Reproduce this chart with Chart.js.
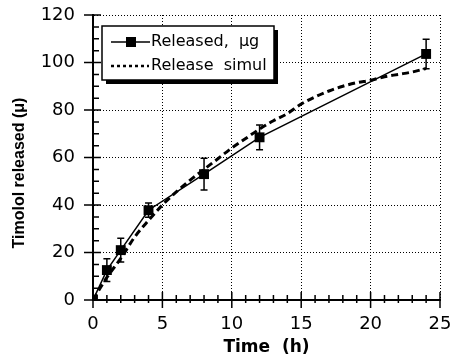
<!DOCTYPE html>
<html>
<head>
<meta charset="utf-8">
<script src="https://cdn.jsdelivr.net/npm/chart.js@4"></script>
<style>
  html, body { margin: 0; padding: 0; background: #fff; }
  #wrap { width: 453px; height: 360px; }
</style>
</head>
<body>
<div id="wrap"><canvas id="myChart" width="453" height="360"></canvas></div>
<script>
// measured release (with error bars)
const releaseTimes = [0, 1, 2, 4, 8, 12, 24];
const releaseValues = [0, 12.6, 21, 37.8, 53, 68.5, 103.6];
const releaseErrors = [0, 4.8, 5, 3, 6.7, 5.2, 6.2];

// simulated release curve
const simTimes = [0, 1, 2, 3, 4, 5, 6, 7, 8, 9, 10, 11, 12, 13, 14, 15, 16, 17, 18, 19, 20, 21, 22, 23, 24];
const simValues = [0, 9.5, 17.5, 26.5, 33.5, 40, 45.5, 50.5, 55, 59.5, 64, 68, 72, 75.5, 78.5, 82.5, 85.5, 88, 90, 91.5, 92.5, 94, 95, 96, 97.5];

const xTicks = [0, 5, 10, 15, 20, 25];
const yTicks = [0, 20, 40, 60, 80, 100, 120];

const labelReleased = 'Released,  \u03BCg';
const labelSimul = 'Release  simul';

//Error bars drawn through the scales
const errorBars = {
    id: 'errorBars',
    afterDatasetsDraw(chart) {
        const ctx = chart.ctx;
        const x = chart.scales.x, y = chart.scales.y;
        ctx.save();
        ctx.strokeStyle = '#000';
        ctx.lineWidth = 1.5;
        releaseTimes.forEach((t, i) => {
            if (!releaseErrors[i]) return;
            const px = x.getPixelForValue(t);
            const top = y.getPixelForValue(releaseValues[i] + releaseErrors[i]);
            const bot = y.getPixelForValue(releaseValues[i] - releaseErrors[i]);
            ctx.beginPath();
            ctx.moveTo(px, top); ctx.lineTo(px, bot);
            ctx.moveTo(px - 3.5, top); ctx.lineTo(px + 3.5, top);
            ctx.moveTo(px - 3.5, bot); ctx.lineTo(px + 3.5, bot);
            ctx.stroke();
        });
        ctx.restore();
    }
};

//Major and minor tick marks crossing the axes
const axisTicks = {
    id: 'axisTicks',
    afterDraw(chart) {
        const ctx = chart.ctx;
        const x = chart.scales.x, y = chart.scales.y;
        const a = chart.chartArea;
        ctx.save();
        ctx.strokeStyle = '#000';
        ctx.lineWidth = 1.5;
        ctx.beginPath();
        for (let t = 0; t <= 25; t++) {
            const px = x.getPixelForValue(t);
            if (t % 5 == 0) {
                ctx.moveTo(px, a.bottom - 8); ctx.lineTo(px, a.bottom + 8);
            } else {
                ctx.moveTo(px, a.bottom - 5); ctx.lineTo(px, a.bottom + 3);
            }
        }
        for (let v = 0; v <= 120; v += 5) {
            const py = y.getPixelForValue(v);
            if (v % 20 == 0) {
                ctx.moveTo(a.left - 9, py); ctx.lineTo(a.left + 8, py);
            } else {
                ctx.moveTo(a.left, py); ctx.lineTo(a.left + 6, py);
            }
        }
        ctx.stroke();
        ctx.restore();
    }
};

//Boxed legend with shadow, inside the plot
const boxLegend = {
    id: 'boxLegend',
    afterDraw(chart) {
        const ctx = chart.ctx;
        const bx = 102, by = 26, bw = 172, bh = 54;
        ctx.save();
        ctx.fillStyle = '#000';
        ctx.fillRect(bx + 4, by + 4, bw, bh);
        ctx.fillStyle = '#fff';
        ctx.fillRect(bx, by, bw, bh);
        ctx.strokeStyle = '#000';
        ctx.lineWidth = 1.5;
        ctx.strokeRect(bx, by, bw, bh);

        ctx.font = '16px "DejaVu Sans"';
        ctx.textBaseline = 'middle';
        ctx.fillStyle = '#000';

        // row 1
        ctx.lineWidth = 1.5;
        ctx.beginPath();
        ctx.moveTo(111, 42); ctx.lineTo(150, 42);
        ctx.stroke();
        ctx.fillRect(126, 37, 10, 10);
        ctx.fillText(labelReleased, 151, 42);

        // row 2
        ctx.lineWidth = 2.5;
        ctx.setLineDash([3, 3]);
        ctx.beginPath();
        ctx.moveTo(111, 66); ctx.lineTo(149, 66);
        ctx.stroke();
        ctx.setLineDash([]);
        ctx.fillText(labelSimul, 151, 66);
        ctx.restore();
    }
};

let chart = document.getElementById('myChart').getContext('2d');

let myChart = new Chart(chart, {
    type: 'scatter',
    data: {
        datasets: [
            {
                label: labelReleased,
                data: releaseTimes.map((t, i) => ({ x: t, y: releaseValues[i] })),
                showLine: true,
                borderColor: '#000',
                backgroundColor: '#000',
                borderWidth: 1.5,
                pointStyle: 'rect',
                pointRadius: 7,
                pointBorderWidth: 0,
                order: 1
            },
            {
                label: labelSimul,
                data: simTimes.map((t, i) => ({ x: t, y: simValues[i] })),
                showLine: true,
                borderColor: '#000',
                backgroundColor: '#000',
                borderWidth: 3,
                borderDash: [7, 4],
                pointRadius: 0,
                cubicInterpolationMode: 'monotone',
                order: 2
            }
        ]
    },
    options: {
        responsive: false,
        animation: false,
        events: [],
        layout: { padding: { top: 15, right: 13, left: 0, bottom: 0 } },
        plugins: {
            legend: { display: false },
            tooltip: { enabled: false }
        },
        scales: {
            x: {
                type: 'linear',
                min: 0,
                max: 25,
                afterBuildTicks: s => { s.ticks = xTicks.map(v => ({ value: v })); },
                afterFit: s => { s.height = 60; },
                ticks: {
                    padding: 0,
                    color: '#000',
                    font: { family: 'DejaVu Sans', size: 18 },
                    maxRotation: 0
                },
                grid: { color: '#000', lineWidth: 1, drawTicks: true, tickLength: 14, tickWidth: 0 },
                border: { display: true, color: '#000', width: 2, dash: [1, 2] },
                title: {
                    display: true,
                    text: 'Time  (h)',
                    color: '#000',
                    font: { family: 'DejaVu Sans', size: 17, weight: 'bold' },
                    padding: { top: 0, bottom: 2 }
                }
            },
            y: {
                min: 0,
                max: 120,
                afterBuildTicks: s => { s.ticks = yTicks.map(v => ({ value: v })); },
                afterFit: s => { s.width = 93; },
                ticks: {
                    padding: 0,
                    color: '#000',
                    font: { family: 'DejaVu Sans', size: 18 }
                },
                grid: { color: '#000', lineWidth: 1, drawTicks: true, tickLength: 18, tickWidth: 0 },
                border: { display: true, color: '#000', width: 2, dash: [1, 2] },
                title: {
                    display: true,
                    text: 'Timolol released (\u03BC)' + '\u00A0'.repeat(7),
                    color: '#000',
                    font: { family: 'Liberation Sans', size: 16, weight: 'bold' },
                    padding: { top: 10, bottom: 0 }
                }
            }
        }
    },
    plugins: [errorBars, axisTicks, boxLegend]
});
</script>
</body>
</html>
